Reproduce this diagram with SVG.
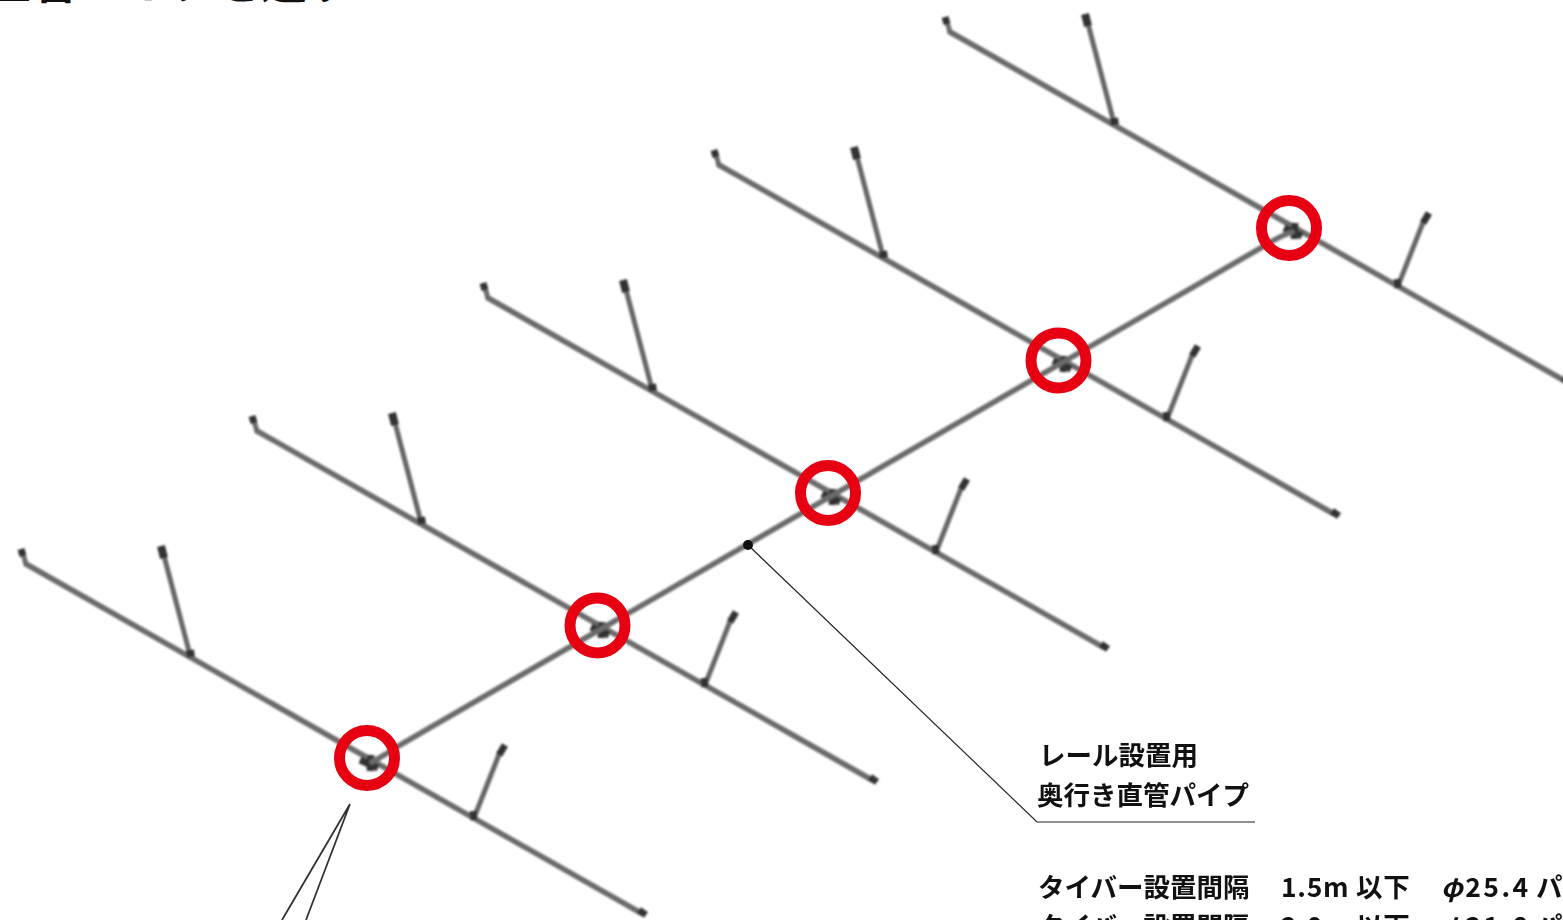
<svg xmlns="http://www.w3.org/2000/svg" width="1563" height="920" viewBox="0 0 1563 920">
<style>
text{font-family:"Noto Sans CJK JP","Liberation Sans",sans-serif;font-weight:700;fill:#111;font-size:26.5px}
.p{fill:none;stroke:#6a6a6a;stroke-width:5.5;stroke-linecap:round}
.b{fill:none;stroke:#666;stroke-width:5}
.d{fill:none;stroke:#333;stroke-width:7}
.r{fill:none;stroke:#e60012;stroke-width:11}
.l{fill:none;stroke:#222;stroke-width:1.2}
.m{fill:none;stroke:#333;stroke-width:1.8}
</style>
<defs>
<filter id="soft" x="-5%" y="-5%" width="110%" height="110%"><feGaussianBlur stdDeviation="0.9"/></filter>
<g id="rail">
<path class="p" d="M26 564L641 913"/>
<path class="p" style="stroke-width:5" d="M26 564L23 554"/>
<path class="d" style="stroke-width:7" d="M21 549L23 556"/>
<path class="b" d="M190 655L163 552"/>
<path class="d" style="stroke-width:8" d="M161 546L164 558M190 650L191 657"/>
<path class="b" d="M474 818L500 752"/>
<path class="d" d="M505 745L499 755M473 811L474 820"/>
<path class="d" d="M639 910L646 915"/>
<path class="d" d="M360 760L378 768M371 755L370 771"/>
</g>
</defs>
<g id="heading"><text x="-15" y="-2" style="font-size:46px">直管パイプを通す</text></g>
<g id="pipes" filter="url(#soft)">
<use href="#rail"/>
<use href="#rail" transform="translate(231 -133)"/>
<use href="#rail" transform="translate(462 -266)"/>
<use href="#rail" transform="translate(693 -399)"/>
<use href="#rail" transform="translate(924 -532)"/>
<path class="p" d="M372 762Q385 755 400 745L1266 245Q1280 236 1292 232"/>
</g>
<g id="markers">
<circle class="r" cx="367" cy="758" r="27.5"/>
<circle class="r" cx="597.500" cy="625.500" r="27.500"/>
<circle class="r" cx="828" cy="493" r="27.500"/>
<circle class="r" cx="1058.500" cy="360.500" r="27.500"/>
<circle class="r" cx="1289" cy="228" r="27.500"/>
</g>
<g id="connectors">
<path class="l" d="M748 545L1037 822H1255"/>
<circle cx="748" cy="545" r="5" fill="#111"/>
<path class="m" d="M350 804L282 920M350 804L306 920"/>
</g>
<g id="label-rail">
<text x="1039" y="765">レール設置用</text>
<text x="1037" y="805">奥行き直管パイプ</text>
</g>
<g id="label-spec">
<text x="1038" y="897">タイバー設置間隔</text>
<text x="1281" y="897" style="letter-spacing:.7px">1.5m 以下</text>
<text x="1441" y="897" style="letter-spacing:2.5px;font-style:italic">φ<tspan style="font-style:normal">25.4</tspan></text>
<text x="1536" y="897">パイプ</text>
<text x="1038" y="936">タイバー設置間隔</text>
<text x="1281" y="936" style="letter-spacing:.7px">2.0m 以下</text>
<text x="1441" y="936" style="letter-spacing:2.5px;font-style:italic">φ<tspan style="font-style:normal">31.8</tspan></text>
<text x="1536" y="936">パイプ</text>
</g>
</svg>
